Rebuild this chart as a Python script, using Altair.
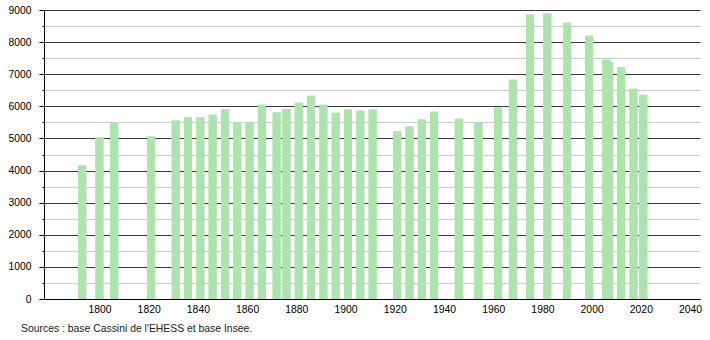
import altair as alt
import pandas as pd

years = [1793, 1800, 1806, 1821, 1831, 1836, 1841, 1846, 1851, 1856, 1861, 1866,
         1872, 1876, 1881, 1886, 1891, 1896, 1901, 1906, 1911, 1921, 1926, 1931,
         1936, 1946, 1954, 1962, 1968, 1975, 1982, 1990, 1999, 2006, 2007, 2012,
         2017, 2021]
population = [4160, 5030, 5480, 5060, 5560, 5660, 5650, 5740, 5900, 5510, 5510, 6050,
              5810, 5920, 6110, 6330, 6050, 5800, 5900, 5860, 5900, 5220, 5370, 5590,
              5830, 5610, 5480, 5960, 6830, 8860, 8890, 8600, 8200, 7450, 7370, 7210,
              6550, 6360]
x_ticks = [1800, 1820, 1840, 1860, 1880, 1900, 1920, 1940, 1960, 1980, 2000, 2020, 2040]
y_major = [0, 1000, 2000, 3000, 4000, 5000, 6000, 7000, 8000, 9000]
y_minor = [500, 1500, 2500, 3500, 4500, 5500, 6500, 7500, 8500]
source = "Sources : base Cassini de l'EHESS et base Insee."

df = pd.DataFrame({"annee": years, "pop": population})
FONT = "Liberation Sans"
BAR = "#ade3ad"
FS = 10.4

x_enc = alt.X("annee:Q",
              scale=alt.Scale(domain=[1779.5, 2042], nice=False, zero=False),
              axis=alt.Axis(values=x_ticks, format="d", ticks=False, grid=False,
                            domainColor="#000000", labelPadding=5, labelFontSize=FS,
                            labelColor="#000000", labelFont=FONT, title=None))
y_scale = alt.Scale(domain=[0, 9000], nice=False)

minor = alt.Chart(df).mark_bar(size=8, color=BAR).encode(
    x=x_enc,
    y=alt.Y("pop:Q", scale=y_scale,
            axis=alt.Axis(values=y_minor, labels=False, domain=False, tickSize=2,
                          tickColor="#000000", grid=True, gridColor="#cccccc",
                          gridWidth=1, orient="left", title=None)),
)
major = alt.Chart(df).mark_bar(size=8, color=BAR).encode(
    x=x_enc,
    y=alt.Y("pop:Q", scale=y_scale,
            axis=alt.Axis(values=y_major, format="d", tickSize=5, tickColor="#000000",
                          domainColor="#000000", grid=True, gridColor="#3a3a3a",
                          gridWidth=1, labelPadding=8, labelFontSize=FS,
                          labelColor="#000000", labelFont=FONT, orient="left",
                          title=None)),
)
caption = alt.Chart(pd.DataFrame({"t": [source]})).mark_text(
    align="left", baseline="middle", font=FONT, fontSize=FS, color="#222222"
).encode(text="t:N", x=alt.value(-23), y=alt.value(319))

chart = alt.layer(minor, major, caption).resolve_axis(y="independent").properties(
    width=656, height=289,
    autosize=alt.AutoSizeParams(type="none"),
    padding={"left": 44, "top": 10, "right": 10, "bottom": 41},
).configure_view(stroke=None)

chart.save("out.html", embed_options={"renderer": "svg", "actions": False})
